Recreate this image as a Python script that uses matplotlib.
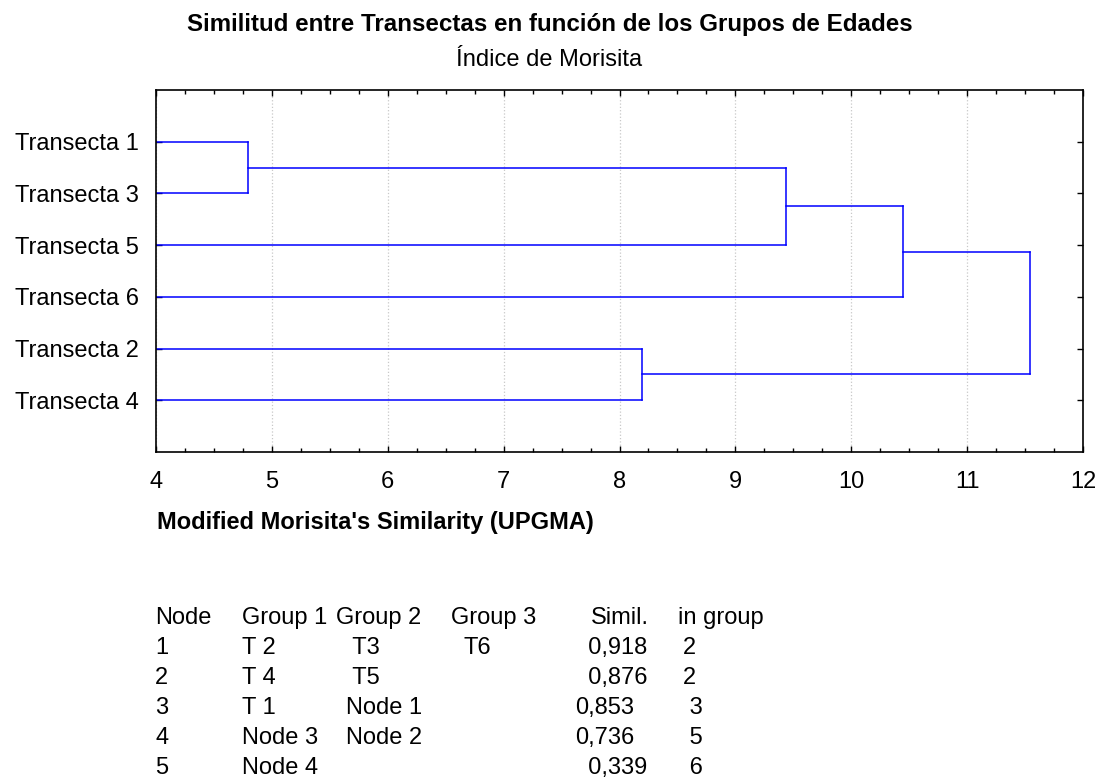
import numpy as np
import matplotlib
matplotlib.use("Agg")
import matplotlib.pyplot as plt
from matplotlib.ticker import MultipleLocator

plt.rcParams['font.family'] = ['Liberation Sans', 'DejaVu Sans']

# leaves, top to bottom
labels = ["Transecta 1", "Transecta 3", "Transecta 5",
          "Transecta 6", "Transecta 2", "Transecta 4"]
# merges: (member a, member b, distance); new nodes numbered from 6
merges = [(0, 1, 4.79), (4, 5, 8.19), (6, 2, 9.44), (8, 3, 10.45), (9, 7, 11.54)]

# node table printed under the chart (plain text, spaces as in the original)
tab_header = ["Node", "Group 1", "Group 2", "Group 3", "Simil.", "in group"]
tab_node = ["1", "2", "3", "4", "5"]
tab_g1 = ["T 2", "T 4", "T 1", "Node 3", "Node 4"]
tab_g2 = [" T3", " T5", "Node 1", "Node 2", ""]
tab_g3 = ["T6", "", "", "", ""]
tab_sim = ["  0,918", "  0,876", "0,853", "0,736", "  0,339"]
tab_n = ["2", "2", " 3", " 5", " 6"]

W, H = 1099, 780
fig = plt.figure(figsize=(W / 100, H / 100), dpi=100)
ax = fig.add_axes([156 / W, 1 - 452 / H, (1083 - 156) / W, (452 - 90) / H])

fs = 17
col = "#0000ff"
xmin = 4
ypos = {i: i + 1 for i in range(len(labels))}
xpos = {i: xmin for i in range(len(labels))}
nid = len(labels)
for a, b, d in merges:
    for c in (a, b):
        ax.plot([xpos[c], d], [ypos[c], ypos[c]], color=col, lw=1.1)
    ax.plot([d, d], [ypos[a], ypos[b]], color=col, lw=1.1)
    ypos[nid] = (ypos[a] + ypos[b]) / 2
    xpos[nid] = d
    nid += 1

ax.set_xlim(4, 12)
ax.set_ylim(len(labels) + 1, 0)
ax.set_yticks(range(1, len(labels) + 1))
ax.set_yticklabels(labels, fontsize=fs)
ax.xaxis.set_major_locator(MultipleLocator(1))
ax.xaxis.set_minor_locator(MultipleLocator(0.25))
ax.tick_params(axis='x', labelsize=fs, pad=14)
ax.tick_params(axis='y', pad=12)
ax.tick_params(which='major', direction='in', length=4, width=1,
               top=True, right=True)
ax.tick_params(which='minor', direction='in', length=3, width=1,
               top=True, bottom=True)
ax.grid(axis='x', which='major', color='#c8c8c8', linestyle=':', lw=0.9)
for s in ax.spines.values():
    s.set_linewidth(1.2)
    s.set_color('black')

fig.text(0.5, 1 - 25 / H, "Similitud entre Transectas en función de los Grupos de Edades",
         ha='center', va='center', fontsize=17.4, fontweight='bold')
fig.text(0.5, 1 - 60 / H, "Índice de Morisita", ha='center', va='center', fontsize=fs)
fig.text(157 / W, 1 - 523 / H, "Modified Morisita's Similarity (UPGMA)",
         ha='left', va='center', fontsize=fs, fontweight='bold')

# table
cols_x = [155, 242, 336, 451, 591, 678]
row_y0, row_dy = 618, 30
for x, t in zip(cols_x, tab_header):
    fig.text(x / W, 1 - row_y0 / H, t, ha='left', va='center', fontsize=fs)
cell_x = [155, 242, 346, 464, 575, 683]
for r in range(len(tab_node)):
    y = 1 - (row_y0 + (r + 1) * row_dy) / H
    row = [tab_node[r], tab_g1[r], tab_g2[r], tab_g3[r], tab_sim[r], tab_n[r]]
    for x, t in zip(cell_x, row):
        fig.text(x / W, y, t, ha='left', va='center', fontsize=fs)

fig.savefig("out.png", dpi=100)
